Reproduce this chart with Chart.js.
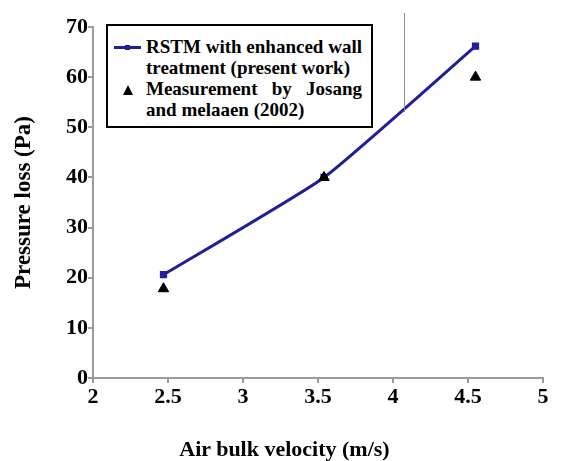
<!DOCTYPE html>
<html>
<head>
<meta charset="utf-8">
<script src="https://cdn.jsdelivr.net/npm/chart.js@4/dist/chart.umd.min.js"></script>
<style>
  body { margin: 0; background: #fff; }
  #wrap { position: relative; width: 579px; height: 461px; font-family: 'Liberation Serif', 'Times New Roman', serif; font-weight: bold; }
  #chart { position: absolute; left: 0; top: 0; }
  #legend {
    position: absolute; left: 106px; top: 24px; width: 263px; height: 100px;
    border: 2px solid #000; background: #fff; font-size: 19px; line-height: 21px;
  }
  #legend .row { position: absolute; left: 38px; width: 216px; white-space: nowrap; }
  #legend .just { text-align: justify; text-align-last: justify; white-space: normal; }
  #legend .sym-line { position: absolute; left: 6px; top: 20px; width: 27px; height: 3px; background: #1f1f9c; }
  #legend .sym-dot { position: absolute; left: 17px; top: 19px; width: 5px; height: 5px; background: #1f1f9c; }
  #legend .sym-tri { position: absolute; left: 15px; top: 59px; width: 0; height: 0;
    border-left: 5px solid transparent; border-right: 5px solid transparent; border-bottom: 10px solid #000; }
  #xtitle { position: absolute; left: 0; width: 569px; top: 436px; text-align: center; font-size: 22px; }
</style>
</head>
<body>
<div id="wrap">
  <canvas id="chart" width="579" height="461"></canvas>
  <div id="legend">
    <div class="sym-line"></div><div class="sym-dot"></div>
    <div class="row just" style="top:10px">RSTM with enhanced wall</div>
    <div class="row" style="top:31px">treatment (present work)</div>
    <div class="sym-tri"></div>
    <div class="row just" style="top:52px">Measurement by Josang</div>
    <div class="row" style="top:73px">and melaaen (2002)</div>
  </div>
  <div id="xtitle">Air bulk velocity (m/s)</div>
</div>
<script>
const rstmX = [2.47, 3.54, 4.55];
const rstmY = [20.6, 40.0, 66.2];
const measX = [2.47, 3.54, 4.55];
const measY = [17.8, 40.0, 60.0];
const xTicks = [2, 2.5, 3, 3.5, 4, 4.5, 5];
const yTicks = [0, 10, 20, 30, 40, 50, 60, 70];
const strayX = [4.07];
const strayY = [53, 72.8];

const AXIS_COLOR = '#9a9a9a';
const tickFont = { family: "'Liberation Serif', 'Times New Roman', serif", weight: 'bold', size: 22 };

const strayLine = {
  id: 'strayLine',
  afterDatasetsDraw(chart) {
    const { ctx, scales } = chart;
    const px = scales.x.getPixelForValue(strayX[0]);
    ctx.save();
    ctx.strokeStyle = '#8c8c8c';
    ctx.lineWidth = 1;
    ctx.beginPath();
    ctx.moveTo(Math.round(px) + 0.5, scales.y.getPixelForValue(strayY[1]));
    ctx.lineTo(Math.round(px) + 0.5, scales.y.getPixelForValue(strayY[0]));
    ctx.stroke();
    ctx.restore();
  }
};

new Chart(document.getElementById('chart'), {
  type: 'scatter',
  data: {
    datasets: [
      {
        label: 'RSTM with enhanced wall treatment (present work)',
        data: rstmX.map((x, i) => ({ x, y: rstmY[i] })),
        showLine: true,
        borderColor: '#1f1f9c',
        backgroundColor: '#1f1f9c',
        borderWidth: 3,
        tension: 0.15,
        pointStyle: 'rect',
        pointRadius: 3,
        order: 2
      },
      {
        label: 'Measurement by Josang and melaaen (2002)',
        data: measX.map((x, i) => ({ x, y: measY[i] })),
        showLine: false,
        borderColor: '#000',
        backgroundColor: '#000',
        pointStyle: 'triangle',
        pointRadius: 6,
        order: 1
      }
    ]
  },
  options: {
    responsive: false,
    animation: false,
    layout: { padding: { top: 27, right: 36, left: 0, bottom: 0 } },
    plugins: { legend: { display: false }, tooltip: { enabled: false } },
    scales: {
      x: {
        type: 'linear',
        min: 2,
        max: 5,
        afterBuildTicks(scale) { scale.ticks = xTicks.map((v) => ({ value: v })); },
        afterFit(scale) { scale.height = 83; },
        ticks: { color: '#000', font: tickFont, padding: 1, callback: (v) => String(v) },
        grid: { drawOnChartArea: false, drawTicks: true, tickLength: 5, color: AXIS_COLOR, lineWidth: 2 },
        border: { color: AXIS_COLOR, width: 2 }
      },
      y: {
        min: 0,
        max: 70,
        afterBuildTicks(scale) { scale.ticks = yTicks.map((v) => ({ value: v })); },
        afterFit(scale) { scale.width = 93; },
        ticks: { color: '#000', font: tickFont, padding: 0, callback: (v) => String(v) },
        grid: { drawOnChartArea: false, drawTicks: true, tickLength: 5, color: AXIS_COLOR, lineWidth: 2 },
        border: { color: AXIS_COLOR, width: 2 },
        title: {
          display: true,
          text: 'Pressure loss (Pa)',
          color: '#000',
          font: { family: "'Liberation Serif', 'Times New Roman', serif", weight: 'bold', size: 23 },
          padding: { top: 10, bottom: 0 }
        }
      }
    }
  },
  plugins: [strayLine]
});
</script>
</body>
</html>
